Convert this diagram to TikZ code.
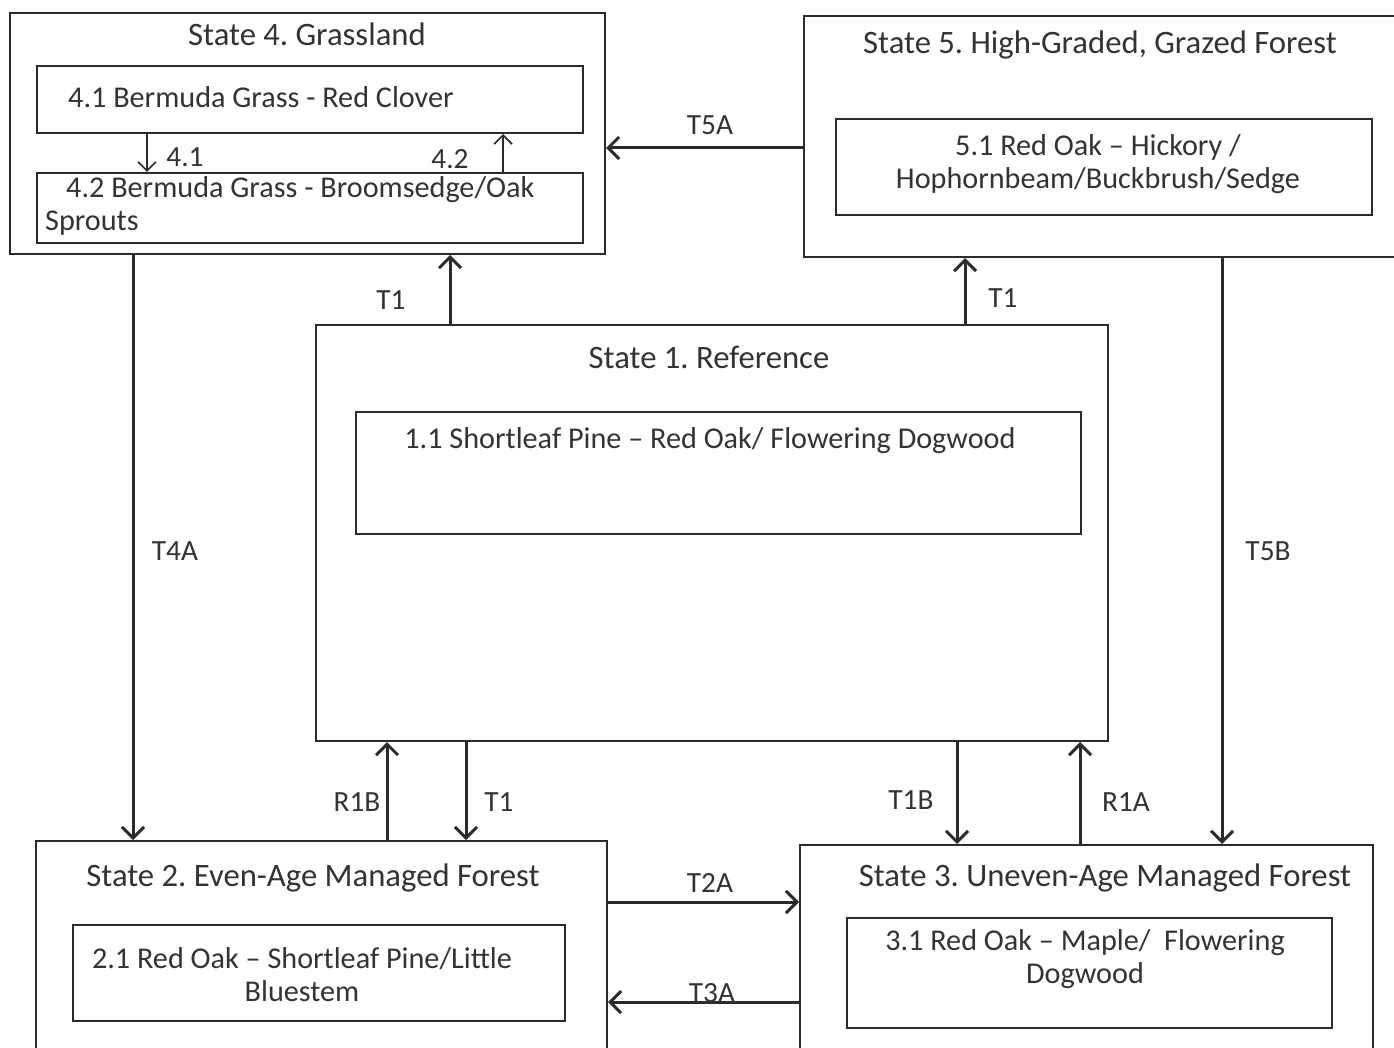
\documentclass[tikz,border=0pt]{standalone}
\usepackage{fontspec}
\setmainfont{Carlito}
\usetikzlibrary{arrows.meta}
\definecolor{ink}{HTML}{2B2B2B}
\definecolor{txt}{HTML}{333333}
\frenchspacing
\begin{document}
\begin{tikzpicture}[x=1pt,y=-1pt,
  box/.style={draw=ink,line width=2pt,inner sep=0pt},
  title/.style={text=txt,font=\fontsize{32.7}{38}\selectfont,inner sep=0pt},
  body/.style={text=txt,font=\fontsize{30.2}{33}\selectfont,inner sep=0pt},
  lab/.style={text=txt,font=\fontsize{29.3}{34}\selectfont,inner sep=0pt},
  arr/.style={draw=ink,line width=3pt,-{Straight Barb[length=11pt,width=22pt,line width=3pt]}},
  thinarr/.style={draw=ink,line width=1.6pt,-{Straight Barb[length=9pt,width=18pt,line width=1.6pt]}}]
\clip (0,0) rectangle (1394,1048);
\fill[white] (0,0) rectangle (1394,1048);
% state boxes
\node[box,minimum width=595pt,minimum height=241pt] (s4) at (307.5,133.5) {};
\node[box,minimum width=591pt,minimum height=241pt] (s5) at (1099.5,136.5) {};
\node[box,minimum width=792pt,minimum height=416pt] (s1) at (712,533) {};
\node[box,minimum width=571pt,minimum height=229pt] (s2) at (321.5,955.5) {};
\node[box,minimum width=573pt,minimum height=225pt] (s3) at (1086.5,957.5) {};
% titles
\node[title] (s4t) at (307,34) {State 4. Grassland};
\node[title] (s5t) at (1100,45) {State 5. High-Graded, Grazed Forest};
\node[title] (s1t) at (709,357) {State 1. Reference};
\node[title] (s2t) at (313,878) {State 2. Even-Age Managed Forest};
\node[title] (s3t) at (1105,878) {State 3. Uneven-Age Managed Forest};
% community boxes
\node[box,minimum width=546pt,minimum height=67pt] (i41) at (310,99.5) {};
\node[body,anchor=west] (i41t) at (68,97) {4.1 Bermuda Grass - Red Clover};
\node[box,minimum width=546pt,minimum height=70pt] (i42) at (310,208) {};
\node[body,anchor=north west,align=left] (i42t) at (45,176) {\hspace*{21pt}4.2 Bermuda Grass - Broomsedge/Oak\\Sprouts};
\node[box,minimum width=536pt,minimum height=96pt] (i51) at (1104,167) {};
\node[body,align=center] (i51t) at (1098,164.5) {5.1 Red Oak -- Hickory /\\Hophornbeam/Buckbrush/Sedge};
\node[box,minimum width=725pt,minimum height=122pt] (i11) at (718.5,473) {};
\node[body] (i11t) at (710,441) {1.1 Shortleaf Pine -- Red Oak/ Flowering Dogwood};
\node[box,minimum width=492pt,minimum height=96pt] (i21) at (319,973) {};
\node[body,align=center] (i21t) at (302,975) {2.1 Red Oak -- Shortleaf Pine/Little\\Bluestem};
\node[box,minimum width=485pt,minimum height=110pt] (i31) at (1089.5,973) {};
\node[body,align=center,anchor=north] (i31t) at (1085,929) {3.1 Red Oak -- Maple/\ \ Flowering\\Dogwood};
% helper coordinates
\coordinate (x41) at (147,0);
\coordinate (x42) at (503,0);
\coordinate (xT1a) at (450,0);
\coordinate (xT1b) at (965,0);
\coordinate (xT4A) at (133,0);
\coordinate (xT5B) at (1222,0);
\coordinate (xR1B) at (387,0);
\coordinate (xT1c) at (466,0);
\coordinate (xT1B) at (957,0);
\coordinate (xR1A) at (1080,0);
\coordinate (yT5A) at (0,148);
\coordinate (yT2A) at (0,902);
\coordinate (yT3A) at (0,1002);
% connectors
\draw[thinarr] (i41.south -| x41) -- (i42.north -| x41);
\draw[thinarr] (i42.north -| x42) -- (i41.south -| x42);
\draw[arr] (s5.west |- yT5A) -- (s4.east |- yT5A);
\draw[arr] (s1.north -| xT1a) -- (s4.south -| xT1a);
\draw[arr] (s1.north -| xT1b) -- (s5.south -| xT1b);
\draw[arr] (s4.south -| xT4A) -- (s2.north -| xT4A);
\draw[arr] (s5.south -| xT5B) -- (s3.north -| xT5B);
\draw[arr] (s2.north -| xR1B) -- (s1.south -| xR1B);
\draw[arr] (s1.south -| xT1c) -- (s2.north -| xT1c);
\draw[arr] (s1.south -| xT1B) -- (s3.north -| xT1B);
\draw[arr] (s3.north -| xR1A) -- (s1.south -| xR1A);
\draw[arr] (s2.east |- yT2A) -- (s3.west |- yT2A);
\draw[arr] (s3.west |- yT3A) -- (s2.east |- yT3A);
% labels
\node[lab] (l41) at (185,157) {4.1};
\node[lab] (l42) at (450,159) {4.2};
\node[lab] (lT5A) at (710,125) {T5A};
\node[lab] (lT1a) at (391,300) {T1};
\node[lab] (lT1b) at (1003,298) {T1};
\node[lab] (lT4A) at (175,551) {T4A};
\node[lab] (lT5B) at (1268,551) {T5B};
\node[lab] (lR1B) at (357,802) {R1B};
\node[lab] (lT1c) at (499,802) {T1};
\node[lab] (lT1B) at (911,800) {T1B};
\node[lab] (lR1A) at (1126,802) {R1A};
\node[lab] (lT2A) at (710,883) {T2A};
\node[lab] (lT3A) at (712,993) {T3A};
\end{tikzpicture}
\end{document}
